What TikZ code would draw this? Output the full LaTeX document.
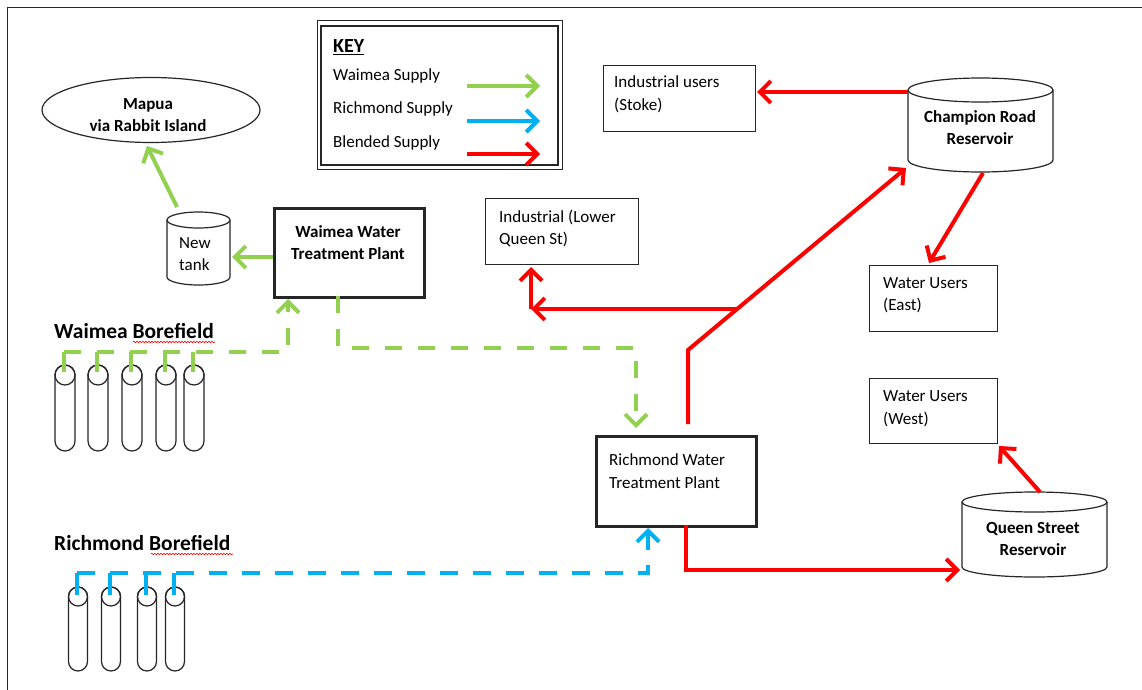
\documentclass[tikz,border=0pt]{standalone}
\usepackage{fontspec}
\setmainfont{Carlito}
\usetikzlibrary{arrows.meta,decorations.pathmorphing,shapes.geometric}
\definecolor{wgreen}{HTML}{92D050}
\definecolor{rblue}{HTML}{00B0F0}
\definecolor{bred}{HTML}{FF0000}
\definecolor{edge}{HTML}{262626}
\begin{document}
\begin{tikzpicture}[x=1pt,y=-1pt,
  every node/.style={inner sep=0pt},
  txt/.style={font=\fontsize{17}{22.5}\selectfont, align=left, anchor=west},
  btxt/.style={font=\fontsize{17}{22}\selectfont\bfseries, align=center},
  lbl/.style={font=\fontsize{21.5}{25}\selectfont\bfseries, anchor=west},
  thinbox/.style={draw=edge, line width=1.2pt, anchor=north west},
  thickbox/.style={draw=edge, line width=2.6pt, anchor=north west},
  outline/.style={draw=edge, line width=1.2pt},
  tipped/.style={-{Straight Barb[length=11pt,width=22pt]}},
  gflow/.style={draw=wgreen, line width=4pt, tipped},
  bflow/.style={draw=rblue, line width=4pt, tipped},
  rflow/.style={draw=bred, line width=4pt, tipped},
  gdash/.style={draw=wgreen, line width=4pt, dash pattern=on 17pt off 16pt, tipped},
  bdash/.style={draw=rblue, line width=4pt, dash pattern=on 18pt off 15pt, tipped},
  gdrop/.style={draw=wgreen, line width=4pt},
  bdrop/.style={draw=rblue, line width=4pt},
  spell/.style={draw=bred, line width=0.6pt, decorate, decoration={snake, amplitude=0.8pt, segment length=3pt}}
]
\useasboundingbox (0,0) rectangle (1142,690);
\fill[white] (0,0) rectangle (1142,690);
% outer frame
\draw[edge, line width=1pt] (7,690) -- (7,8) -- (1142,8);

% ---------- KEY ----------
\draw[edge, line width=1pt] (317,21) rectangle (562,169);
\draw[edge, line width=2pt] (321,26) rectangle (558,165);
\node[font=\fontsize{20}{24}\selectfont\bfseries, anchor=west] (keyt) at (333,47) {\underline{KEY}};
\node[txt] (kw) at (333,76) {Waimea Supply};
\node[txt] (kr) at (333,109) {Richmond Supply};
\node[txt] (kb) at (333,143) {Blended Supply};
\coordinate (kwa) at (467,86);  \coordinate (kwb) at (540,86);
\coordinate (kra) at (467,121); \coordinate (krb) at (540,121);
\coordinate (kba) at (467,154); \coordinate (kbb) at (540,154);
\draw[gflow] (kwa) -- (kwb);
\draw[bflow] (kra) -- (krb);
\draw[rflow] (kba) -- (kbb);

% ---------- Mapua ----------
\node[ellipse, outline, minimum width=218pt, minimum height=65pt] (mapua) at (151,110) {};
\node[btxt] (mapuat) at (148,115) {Mapua\\via Rabbit Island};

% ---------- New tank ----------
\draw[outline] (198.5,220) ellipse [x radius=31.5pt, y radius=8pt];
\draw[outline] (167,220) -- (167,277) arc[start angle=180, end angle=360, x radius=31.5pt, y radius=8pt] -- (230,220);
\node[txt] (tank) at (179,254) {New\\tank};
\coordinate (tanktop) at (177,207);
\coordinate (tankright) at (232,257);
\coordinate (mapuabot) at (147,146);

% ---------- Waimea WTP ----------
\node[thickbox, minimum width=150pt, minimum height=89pt] (wwtp) at (273,207) {};
\node[btxt] (wwtpt) at (348,243) {Waimea Water\\Treatment Plant};

% ---------- Richmond WTP ----------
\node[thickbox, minimum width=160pt, minimum height=90pt] (rwtp) at (595,435) {};
\node[txt] (rwtpt) at (609,471) {Richmond Water\\Treatment Plant};

% ---------- user boxes ----------
\node[thinbox, minimum width=152pt, minimum height=66pt] (stoke) at (603,65) {};
\node[txt] (stoket) at (614,94.5) {Industrial users\\(Stoke)};
\node[thinbox, minimum width=153pt, minimum height=66pt] (lowq) at (485,198) {};
\node[txt] (lowqt) at (499,228.5) {Industrial (Lower\\Queen St)};
\node[thinbox, minimum width=128pt, minimum height=66pt] (east) at (869,265) {};
\node[txt] (eastt) at (883,295) {Water Users\\(East)};
\node[thinbox, minimum width=128pt, minimum height=65pt] (west) at (869,378) {};
\node[txt] (westt) at (883,408.5) {Water Users\\(West)};

% ---------- Champion Road Reservoir ----------
\draw[outline] (980.5,90) ellipse [x radius=72.5pt, y radius=12pt];
\draw[outline] (908,90) -- (908,160) arc[start angle=180, end angle=360, x radius=72.5pt, y radius=12pt] -- (1053,90);
\node[btxt] (champ) at (980,128) {Champion Road\\Reservoir};

% ---------- Queen Street Reservoir ----------
\draw[outline] (1034.5,502) ellipse [x radius=72.5pt, y radius=10pt];
\draw[outline] (962,502) -- (962,567) arc[start angle=180, end angle=360, x radius=72.5pt, y radius=10pt] -- (1107,502);
\node[btxt] (qs) at (1033,539) {Queen Street\\Reservoir};

% ---------- Borefields ----------
\node[lbl] (wbf) at (54,331) {Waimea Borefield};
\draw[spell] (133,342) -- (215,342);
\node[lbl] (rbf) at (54,543) {Richmond Borefield};
\draw[spell] (151,554) -- (233,554);

\foreach \x/\n in {65/1,98/2,132/3,166/4,194/5}{
  \draw[outline] [rounded corners=10pt] (\x-10,365) rectangle (\x+10,451);
  \draw[outline] (\x,375) circle (10pt);
  \coordinate (ww\n) at (\x-1,372);
}
\foreach \x/\n in {78/1,111/2,147/3,175/4}{
  \draw[outline] [rounded corners=9.5pt] (\x-9.5,587) rectangle (\x+9.5,671);
  \draw[outline] (\x,596.5) circle (9.5pt);
  \coordinate (rw\n) at (\x-1,595);
}

% ---------- Waimea supply ----------
\coordinate (wjoin) at (288,352);
\coordinate (wwtpin) at (288,299);
\foreach \n in {1,...,5}{ \draw[gdrop] (ww\n) -- (ww\n |- wjoin); }
\draw[gdash] (ww1 |- wjoin) -- (wjoin) -- (wwtpin);
\coordinate (wwtpl) at (273,257);
\draw[gflow] (wwtpl) -- (tankright);
\draw[gflow] (tanktop) -- (mapuabot);
\coordinate (wout) at (338,296);
\coordinate (wmid) at (338,348);
\coordinate (wturn) at (636,348);
\coordinate (rwin) at (636,428);
\draw[gdash] (wout) -- (wmid) -- (wturn) -- (rwin);

% ---------- Richmond supply ----------
\coordinate (rjoin) at (648,573);
\coordinate (rwtpin) at (648,528);
\foreach \n in {1,...,4}{ \draw[bdrop] (rw\n) -- (rw\n |- rjoin); }
\draw[bdash] (rw1 |- rjoin) -- (rjoin) -- (rwtpin);

% ---------- Blended supply ----------
\coordinate (rtop) at (688,424);
\coordinate (rbend) at (688,350);
\coordinate (champin) at (906,168);
\draw[rflow] (rtop) -- (rbend) -- (champin);
\coordinate (branch) at (737,309);
\coordinate (bcorner) at (531,309);
\coordinate (lowqin) at (531,267);
\draw[rflow] (branch) -- (bcorner);
\draw[rflow] (bcorner) -- (lowqin);
\coordinate (champl) at (908,92);
\coordinate (stokein) at (757,92);
\draw[rflow] (champl) -- (stokein);
\coordinate (champb) at (983,173);
\coordinate (eastin) at (929,263);
\draw[rflow] (champb) -- (eastin);
\coordinate (rbot) at (686,525);
\coordinate (rcorner) at (686,570);
\coordinate (qsin) at (960,570);
\draw[rflow] (rbot) -- (rcorner) -- (qsin);
\coordinate (qstop) at (1040,492);
\coordinate (westin) at (999,446);
\draw[rflow] (qstop) -- (westin);
\end{tikzpicture}
\end{document}
